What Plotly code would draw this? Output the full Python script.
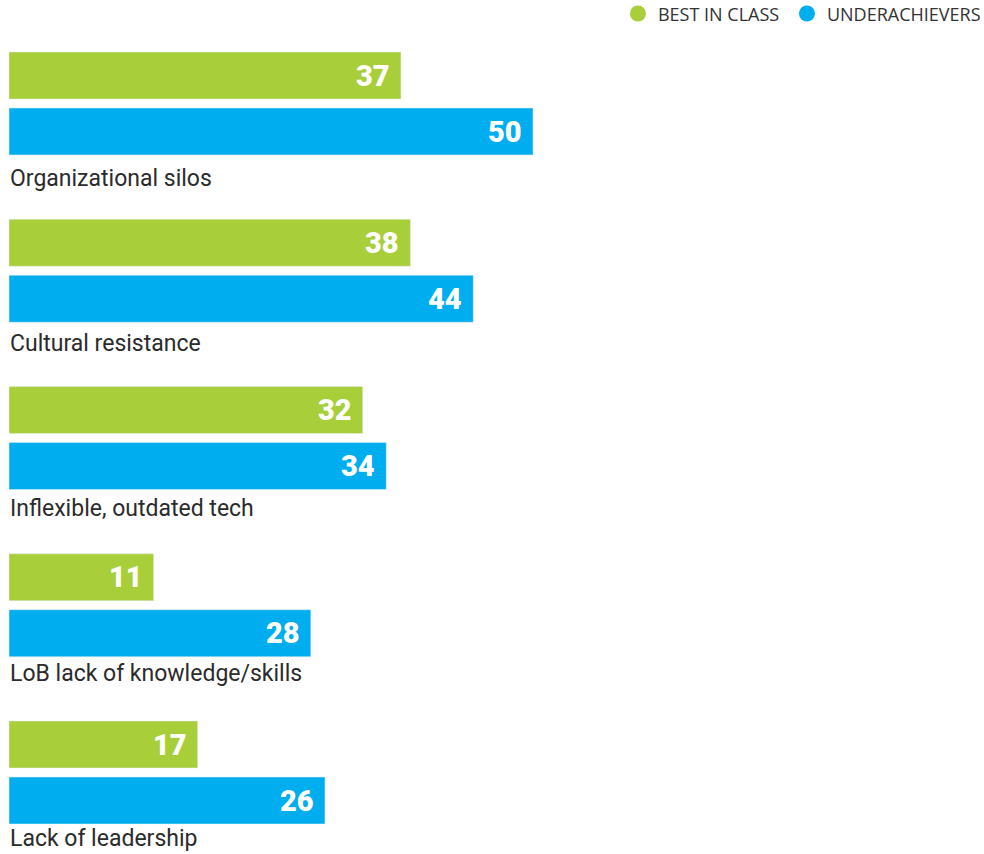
import plotly.graph_objects as go

categories = ["Organizational silos", "Cultural resistance", "Inflexible, outdated tech",
              "LoB lack of knowledge/skills", "Lack of leadership"]
series_names = ["BEST IN CLASS", "UNDERACHIEVERS"]
best_labels = [37, 38, 32, 11, 17]
under_labels = [50, 44, 34, 28, 26]
# bar lengths as drawn in the picture (the source bars are not exactly to scale)
best_lengths = [37.4, 38.3, 33.75, 13.8, 18.0]
under_lengths = [50.0, 44.3, 36.0, 28.8, 30.15]

GREEN = "#A8CE3A"
BLUE = "#00AEEF"
TEXT = "#2b2b2b"

W, H = 984, 854
LEFT = 9
PX_PER_UNIT = 10.48
BAND = 167.25
FIRST_CENTER = 103.5

idx = list(range(len(categories)))

fig = go.Figure()
fig.add_trace(go.Bar(y=idx, x=best_lengths, orientation="h", marker_color=GREEN,
                     name=series_names[0], showlegend=False, hoverinfo="skip"))
fig.add_trace(go.Bar(y=idx, x=under_lengths, orientation="h", marker_color=BLUE,
                     name=series_names[1], showlegend=False, hoverinfo="skip"))
# legend entries with round markers
for k, (name, col) in enumerate(zip(series_names, [GREEN, BLUE])):
    fig.add_trace(go.Scatter(x=[None], y=[None], mode="markers", name=name,
                             legendwidth=124 if k == 0 else None,
                             marker=dict(color=col, size=16, symbol="circle")))

ann = []
for i, (bv, bl, uv, ul, cat) in enumerate(zip(best_lengths, best_labels, under_lengths, under_labels, categories)):
    ann.append(dict(x=bv, y=i, xref="x", yref="y", text=str(bl), showarrow=False,
                    xanchor="right", yanchor="middle", xshift=-9, yshift=28,
                    font=dict(family="Roboto", size=29, color="white", weight=900)))
    ann.append(dict(x=uv, y=i, xref="x", yref="y", text=str(ul), showarrow=False,
                    xanchor="right", yanchor="middle", xshift=-9, yshift=-28,
                    font=dict(family="Roboto", size=29, color="white", weight=900)))
    ann.append(dict(x=0, y=i, xref="x", yref="y", text=cat, showarrow=False,
                    xanchor="left", yanchor="middle", xshift=-1, yshift=-(74.5 - 2.25 * i),
                    font=dict(family="Roboto", size=23, color=TEXT)))

plot_w = W - LEFT
fig.update_layout(
    width=W, height=H,
    margin=dict(l=LEFT, r=0, t=0, b=0, autoexpand=False),
    paper_bgcolor="white", plot_bgcolor="white",
    barmode="group", bargap=1 - 112 / BAND, bargroupgap=9 / 56,
    xaxis=dict(range=[0, plot_w / PX_PER_UNIT], visible=False, fixedrange=True),
    yaxis=dict(range=[(H - FIRST_CENTER) / BAND, -FIRST_CENTER / BAND], visible=False, fixedrange=True),
    legend=dict(orientation="h", x=1.002, xanchor="right", y=1.0055, yanchor="top",
                font=dict(family="Open Sans", size=18, color="#333333"),
                bgcolor="rgba(0,0,0,0)"),
    annotations=ann,
    showlegend=True,
)

fig.write_html("out.html", config={"displayModeBar": False})
